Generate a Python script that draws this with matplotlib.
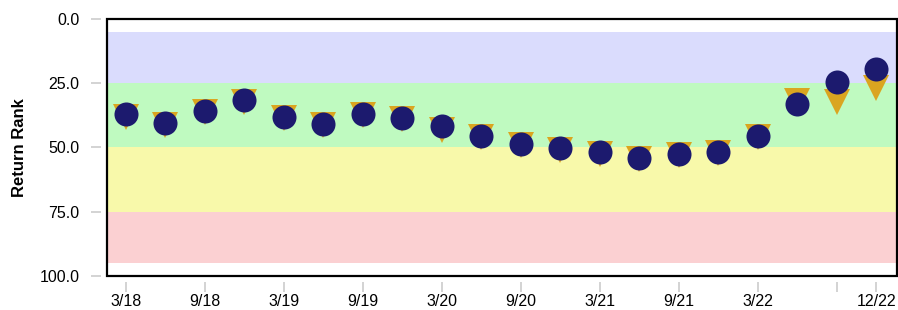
import matplotlib.pyplot as plt
from matplotlib.patches import Rectangle

plt.rcParams['font.family'] = ['Liberation Sans', 'DejaVu Sans']

quarters = ['3/18', '6/18', '9/18', '12/18', '3/19', '6/19', '9/19', '12/19',
            '3/20', '6/20', '9/20', '12/20', '3/21', '6/21', '9/21', '12/21',
            '3/22', '6/22', '9/22', '12/22']
circle_rank = [37.1, 40.4, 35.7, 31.6, 38.0, 40.9, 37.1, 38.7, 41.7, 45.7,
               48.7, 50.3, 51.9, 54.0, 52.6, 51.8, 45.6, 33.2, 24.7, 19.3]
triangle_rank = [38.3, 41.2, 36.1, 32.2, 38.5, 41.4, 37.5, 39.1, 43.0, 46.0,
                 49.2, 50.8, 52.4, 54.6, 53.1, 52.2, 46.0, 32.0, 32.2, 26.7]
tick_quarters = ['3/18', '9/18', '3/19', '9/19', '3/20', '9/20', '3/21',
                 '9/21', '3/22', '9/22', '12/22']
tick_labels = ['3/18', '9/18', '3/19', '9/19', '3/20', '9/20', '3/21',
               '9/21', '3/22', '', '12/22']
bands = [(5, 25, '#dadcfd'), (25, 50, '#bffac0'), (50, 75, '#f8f9aa'), (75, 95, '#fbd0d2')]

fig = plt.figure(figsize=(8.98, 3.10), dpi=100)
ax = fig.add_axes([0.1192, 0.1097, 0.8797, 0.829])

for lo, hi, c in bands:
    ax.axhspan(lo, hi, color=c, lw=0, zorder=0)

x = list(range(len(quarters)))
ax.plot(x, triangle_rank, 'v', color='#daa520', markersize=19.4, mew=0, zorder=2)
ax.plot(x, circle_rank, 'o', color='#1c1a6e', markersize=17.3, mew=0, zorder=3)

ax.set_xlim(-0.48, 19.52)
ax.set_ylim(100, 0)

ax.set_xticks([quarters.index(q) for q in tick_quarters])
ax.set_xticklabels(tick_labels)
ax.set_yticks([0, 25, 50, 75, 100])
ax.set_yticklabels(['0.0', '25.0', '50.0', '75.0', '100.0'])
for lbl, c in zip(ax.get_yticklabels(), ['black', '#666666', '#666666', '#666666', 'black']):
    lbl.set_color(c)

for side in ['left', 'bottom']:
    ax.spines[side].set_position(('outward', 4))
    ax.spines[side].set_visible(False)
for side in ['top', 'right']:
    ax.spines[side].set_visible(False)
ax.tick_params(axis='both', length=7, width=1.2, color='#cccccc', labelsize=11.5)
ax.tick_params(axis='y', pad=9)
ax.tick_params(axis='x', labelcolor='black', pad=2)

ax.add_patch(Rectangle((0, 0), 1, 1, transform=ax.transAxes, fill=False,
                       edgecolor='black', lw=1.6, clip_on=False, zorder=5))

ax.set_ylabel('Return Rank', fontsize=12, fontweight='bold', labelpad=9)

fig.savefig('out.png', dpi=100)
